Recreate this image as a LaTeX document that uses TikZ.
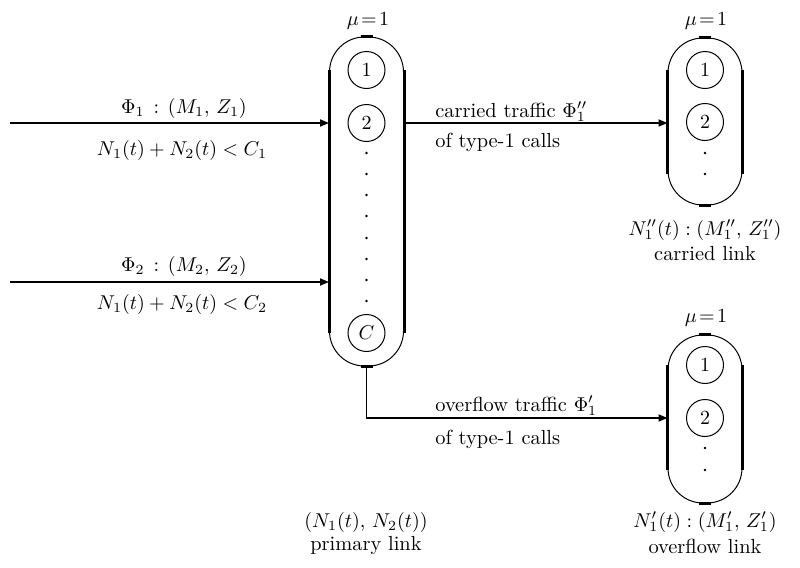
\documentclass[tikz,border=0pt]{standalone}
\usetikzlibrary{arrows.meta}
\begin{document}
\begin{tikzpicture}[x=0.5pt,y=-0.5pt,
  every node/.style={font=\fontsize{10.2pt}{12pt}\selectfont},
  link/.style={draw, line width=0.5pt, rounded corners=17.5pt, minimum width=37pt, inner sep=0pt},
  chan/.style={circle, draw, line width=0.5pt, minimum size=18.5pt, inner sep=0pt},
  side/.style={line width=1.5pt},
  arr/.style={line width=0.9pt, -{Triangle[length=4.5pt,width=3.5pt]}},
  dot/.style={circle, fill, inner sep=0pt, minimum size=1.3pt}]
\useasboundingbox (0,0) rectangle (800,568);

% ---------- primary link ----------
\node[link, minimum height=164.5pt] (prim) at (366.5,201.5) {};
\node[chan] (p1) at (366.5,70) {$1$};
\node[chan] (p2) at (366.5,123) {$2$};
\node[chan] (pC) at (366.5,333) {$C$};
\foreach \y [count=\i] in {153,174,195,216,238,259,280,301}
  \node[dot] (pd\i) at (366.5,\y) {};
\draw[side] (prim.west |- p1) -- (prim.west |- pC);
\draw[side] (prim.east |- p1) -- (prim.east |- pC);
\draw[side] ([xshift=-3pt]prim.north) -- ([xshift=3pt]prim.north);
\draw[side] ([xshift=-3pt]prim.south) -- ([xshift=3pt]prim.south);
\node (mu1) at (368,21) {$\mu\!=\!1$};
\node (plab) at (366,522) {$(N_1(t),\, N_2(t))$};
\node (pname) at (366,546) {primary link};

% ---------- carried link ----------
\node[link, minimum height=83.5pt] (car) at (705,121.5) {};
\node[chan] (c1) at (705,70) {$1$};
\node[chan] (c2) at (705,122) {$2$};
\node[dot] (cd1) at (705,153) {};
\node[dot] (cd2) at (705,174) {};
\draw[side] (car.west |- c1) -- (car.west |- cd2);
\draw[side] (car.east |- c1) -- (car.east |- cd2);
\draw[side] ([xshift=-3pt]car.north) -- ([xshift=3pt]car.north);
\draw[side] ([xshift=-3pt]car.south) -- ([xshift=3pt]car.south);
\node (mu2) at (706,21) {$\mu\!=\!1$};
\node (clab) at (705,230) {$N_1''(t) : (M_1'',\, Z_1'')$};
\node (cname) at (705,254) {carried link};

% ---------- overflow link ----------
\node[link, minimum height=84pt] (ovl) at (705,419) {};
\node[chan] (o1) at (705,365) {$1$};
\node[chan] (o2) at (705,418) {$2$};
\node[dot] (od1) at (705,448) {};
\node[dot] (od2) at (705,470) {};
\draw[side] (ovl.west |- o1) -- (ovl.west |- od2);
\draw[side] (ovl.east |- o1) -- (ovl.east |- od2);
\draw[side] ([xshift=-3pt]ovl.north) -- ([xshift=3pt]ovl.north);
\draw[side] ([xshift=-3pt]ovl.south) -- ([xshift=3pt]ovl.south);
\node (mu3) at (706,318) {$\mu\!=\!1$};
\node (olab) at (705,522) {$N_1'(t) : (M_1',\, Z_1')$};
\node (oname) at (705,546) {overflow link};

% ---------- input streams ----------
\coordinate (s1) at (10,123);
\coordinate (s2) at (10,282);
\draw[arr] (s1) -- (s1 -| prim.west);
\draw[arr] (s2) -- (s2 -| prim.west);
\node (f1) at (184,108) {$\Phi_1\,:\,(M_1,\, Z_1)$};
\node (g1) at (182,150) {$N_1(t) + N_2(t) < C_1$};
\node (f2) at (184,266) {$\Phi_2\,:\,(M_2,\, Z_2)$};
\node (g2) at (182,304) {$N_1(t) + N_2(t) < C_2$};

% ---------- carried traffic ----------
\draw[arr] (p2 -| prim.east) -- (p2 -| car.west);
\node[anchor=base west, inner sep=0pt] (ct1) at (435,117) {carried traffic $\Phi_1''$};
\node[anchor=base west, inner sep=0pt] (ct2) at (435,147) {of type-1 calls};

% ---------- overflow traffic ----------
\draw[arr] (prim.south) |- (o2 -| ovl.west);
\node[anchor=base west, inner sep=0pt] (ot1) at (435,411) {overflow traffic $\Phi_1'$};
\node[anchor=base west, inner sep=0pt] (ot2) at (435,444) {of type-1 calls};
\end{tikzpicture}
\end{document}
